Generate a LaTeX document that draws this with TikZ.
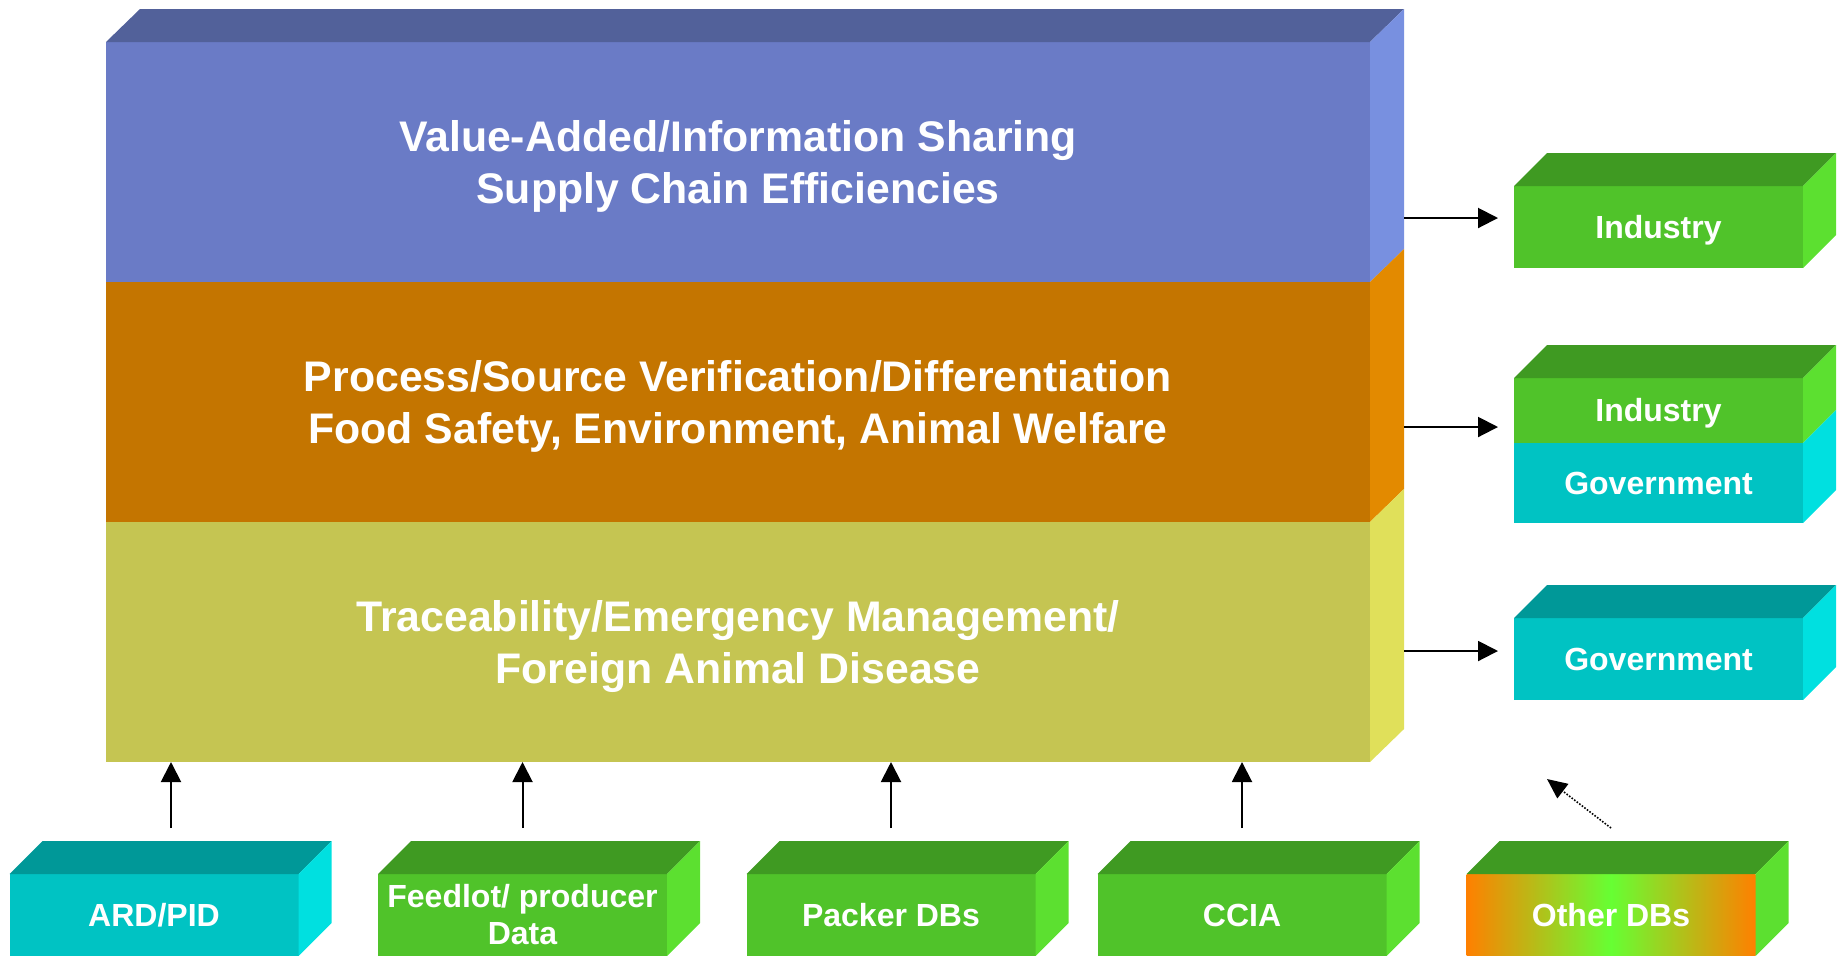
\documentclass[tikz,border=0pt]{standalone}
\usepackage{fontspec}
\setmainfont{Liberation Sans}
\usetikzlibrary{calc,positioning,arrows.meta}

\definecolor{blufront}{HTML}{6A7BC6}
\definecolor{blutop}{HTML}{52619A}
\definecolor{bluside}{HTML}{7890E0}
\definecolor{orafront}{HTML}{C47500}
\definecolor{oraside}{HTML}{E38A00}
\definecolor{yelfront}{HTML}{C5C552}
\definecolor{yelside}{HTML}{E0E05A}
\definecolor{grnfront}{HTML}{50C32A}
\definecolor{grntop}{HTML}{3F9A22}
\definecolor{grnside}{HTML}{5CE030}
\definecolor{cyafront}{HTML}{00C3C3}
\definecolor{cyatop}{HTML}{009898}
\definecolor{cyaside}{HTML}{00E0E0}
\definecolor{othedge}{HTML}{FF8000}
\definecolor{othmid}{HTML}{66FF33}

\tikzset{
  bluF/.style={fill=blufront}, bluT/.style={fill=blutop}, bluS/.style={fill=bluside},
  oraF/.style={fill=orafront}, oraS/.style={fill=oraside},
  yelF/.style={fill=yelfront}, yelS/.style={fill=yelside},
  grnF/.style={fill=grnfront}, grnT/.style={fill=grntop}, grnS/.style={fill=grnside},
  cyaF/.style={fill=cyafront}, cyaT/.style={fill=cyatop}, cyaS/.style={fill=cyaside},
  othF/.style={left color=othedge, right color=othedge, middle color=othmid},
  othT/.style={grnT}, othS/.style={grnS},
  layer/.style={minimum width=632pt, minimum height=120pt, inner sep=0pt, outer sep=0pt,
    text height=43.4pt, text depth=2.2pt,
    align=center, text=white, font=\fontsize{21.4}{25.8}\selectfont\bfseries},
  srcbox/.style={minimum width=144.5pt, minimum height=41pt, inner sep=0pt, outer sep=0pt,
    align=center, text=white, font=\fontsize{16}{18.5}\selectfont\bfseries},
  sidebox/.style={srcbox, text height=12pt, text depth=0.6pt},
  conn/.style={-{Triangle[length=10pt,width=10pt]}, line width=1pt},
  dotconn/.style={-{Triangle[length=10pt,width=9pt]}, line width=0.8pt, dash pattern=on 0.8pt off 0.8pt}
}

\def\dbbox(#1,#2,#3,#4,#5,#6){
  \node[#2, #5F] (#1) at (#3,#4) {#6};
  \fill[#5T] (#1.north west) -- ++(33,-33) -- ($(#1.north east)+(33,-33)$) -- (#1.north east) -- cycle;
  \fill[#5S] (#1.north east) -- ++(33,-33) -- ($(#1.south east)+(33,-33)$) -- (#1.south east) -- cycle;
}

\begin{document}
\begin{tikzpicture}[x=0.5pt, y=-0.5pt]
\useasboundingbox (0,0) rectangle (1841,955);
\clip (0,0) rectangle (1841,955);

% the three layers
\node[layer, bluF] (val) at (738,162) {Value-Added/Information Sharing\\Supply Chain Efficiencies};
\node[layer, oraF, below=0pt of val] (proc) {Process/Source Verification/Differentiation\\Food Safety, Environment, Animal Welfare};
\node[layer, yelF, below=0pt of proc] (trace) {Traceability/Emergency Management/\\Foreign Animal Disease};
\fill[bluT] (val.north west) -- ++(34,-33) -- ($(val.north east)+(34,-33)$) -- (val.north east) -- cycle;
\foreach \n/\s in {val/bluS, proc/oraS, trace/yelS}
  \fill[\s] (\n.north east) -- ++(34,-33) -- ($(\n.south east)+(34,-33)$) -- (\n.south east) -- cycle;

% right side
\dbbox(ind1,sidebox,1658.5,227,grn,Industry)
\node[sidebox, grnF, minimum height=32.5pt] (ind2) at (1658.5,410.5) {Industry};
\node[sidebox, cyaF, minimum height=40pt, below=0pt of ind2] (gov2) {Government};
\fill[grnT] (ind2.north west) -- ++(33,-33) -- ($(ind2.north east)+(33,-33)$) -- (ind2.north east) -- cycle;
\fill[grnS] (ind2.north east) -- ++(33,-33) -- ($(ind2.south east)+(33,-33)$) -- (ind2.south east) -- cycle;
\fill[cyaS] (gov2.north east) -- ++(33,-33) -- ($(gov2.south east)+(33,-33)$) -- (gov2.south east) -- cycle;
\dbbox(gov1,sidebox,1658.5,659,cya,Government)

\coordinate (out1) at (1404,218);
\coordinate (out2) at (1404,427);
\coordinate (out3) at (1404,651);
\draw[conn] (out1) -- ([xshift=-8pt]ind1.west |- out1);
\draw[conn] (out2) -- ([xshift=-8pt]ind2.west |- out2);
\draw[conn] (out3) -- ([xshift=-8pt]gov1.west |- out3);

% sources
\dbbox(ard,srcbox,154,915,cya,ARD/PID)
\dbbox(feed,srcbox,522.5,915,grn,Feedlot/ producer\\Data)
\dbbox(pack,srcbox,891,915,grn,Packer DBs)
\dbbox(ccia,srcbox,1242,915,grn,CCIA)
\dbbox(oth,srcbox,1611,915,oth,Other DBs)

\coordinate (ardtail) at (171,828);
\draw[conn] (ardtail) -- (ardtail |- trace.south);
\foreach \n in {feed,pack,ccia}
  \draw[conn] ([yshift=23pt]\n.north) -- (\n.north |- trace.south);
\coordinate (dotend) at (1547,779);
\draw[dotconn] ([yshift=23pt]oth.north) -- (dotend);
\end{tikzpicture}
\end{document}
